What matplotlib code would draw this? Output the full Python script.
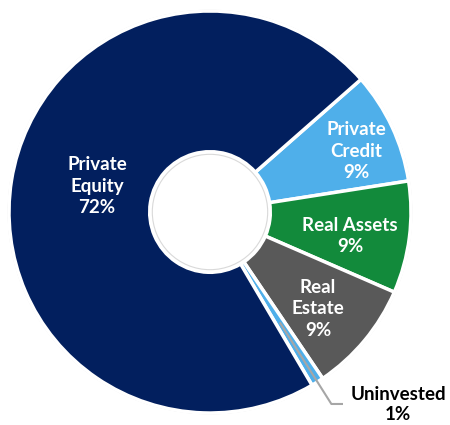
import matplotlib
matplotlib.use("Agg")
import matplotlib.pyplot as plt
import numpy as np

categories = ["Private\nCredit", "Real Assets", "Real\nEstate", "Uninvested", "Private\nEquity"]
values = [9, 9, 9, 1, 72]
pct_labels = ["9%", "9%", "9%", "1%", "72%"]
colors = ["#4FAFEA", "#128A3B", "#595959", "#4FAFEA", "#021F5E"]

W, H = 450, 425
cx, cy, R = 210, 212, 201  # pixel geometry

fig = plt.figure(figsize=(W / 100, H / 100), dpi=100)
ax = fig.add_axes([0, 0, 1, 1])

wedges, _ = ax.pie(values, colors=colors, startangle=41.3, counterclock=False,
                   radius=1.0, center=(0, 0),
                   wedgeprops=dict(width=0.70, edgecolor="white", linewidth=2.5))
ax.set_xlim(-cx / R, (W - cx) / R)
ax.set_ylim(-(H - cy) / R, cy / R)
ax.set_aspect("equal")
ax.axis("off")
# faint outlines
ax.add_patch(plt.Circle((0, 0), 1.004, fill=False, ec="#D9D9D9", lw=0.8, zorder=0))
ax.add_patch(plt.Circle((0, 0), 0.287, fill=False, ec="#D9D9D9", lw=0.8, zorder=5))

def px(x, y):
    return ((x - cx) / R, (cy - y) / R)

font = dict(family=["Lato", "DejaVu Sans"], fontweight="bold", fontsize=13.5)
label_px = [(356, 151), (350, 236), (318, 309), None, (97, 186)]
for cat, pct, pos in zip(categories, pct_labels, label_px):
    if pos is None:
        continue
    ax.text(*px(*pos), f"{cat}\n{pct}", ha="center", va="center", color="white",
            linespacing=1.35, **font)

# Uninvested callout
w = wedges[3]
mid = np.deg2rad((w.theta1 + w.theta2) / 2)
p0 = (0.65 * np.cos(mid), 0.65 * np.sin(mid))
p1 = (1.13 * np.cos(mid), 1.13 * np.sin(mid))
p2 = px(343, 0)[0], p1[1]
ax.plot([p0[0], p1[0], p2[0]], [p0[1], p1[1], p2[1]], color="#A6A6A6", lw=1.5,
        solid_capstyle="butt", zorder=6)
ax.text(*px(398, 395), categories[3], ha="center", va="center", color="black", **font)
ax.text(*px(398, 415), pct_labels[3], ha="center", va="center", color="black", **font)

fig.savefig("out.png", dpi=100)
